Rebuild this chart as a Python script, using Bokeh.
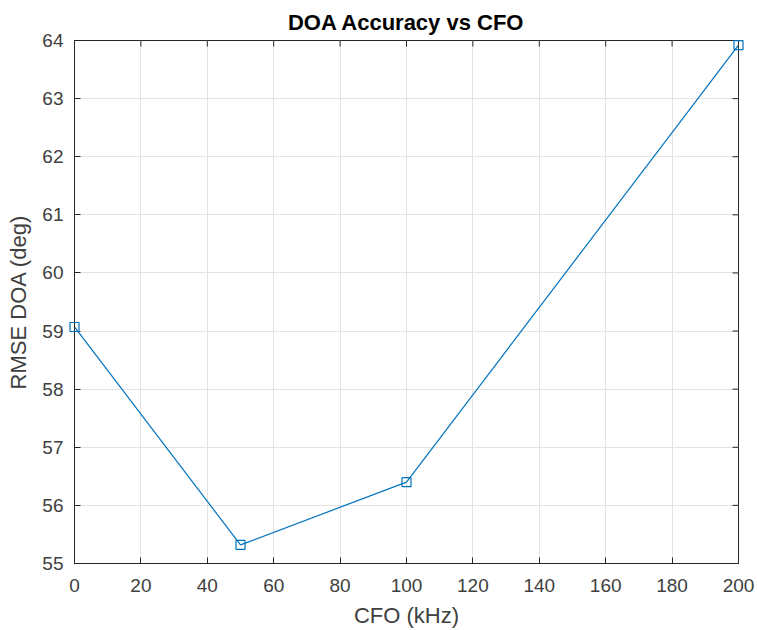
from bokeh.plotting import figure
from bokeh.models import ColumnDataSource, FixedTicker, Range1d, Title
from bokeh.embed import file_html
from bokeh.resources import INLINE

# Data
cfo_khz = [0, 50, 100, 200]
rmse_doa = [59.07, 55.32, 56.40, 63.92]
x_ticks = [0, 20, 40, 60, 80, 100, 120, 140, 160, 180, 200]
y_ticks = [55, 56, 57, 58, 59, 60, 61, 62, 63, 64]
title_text = "DOA Accuracy vs CFO"
x_label = "CFO (kHz)"
y_label = "RMSE DOA (deg)"

FONT = "Liberation Sans"
AX = "#262626"
TXT = "#404040"
BLUE = "#0072BD"

X_MIN, X_MAX = x_ticks[0], x_ticks[-1]
Y_MIN, Y_MAX = y_ticks[0], y_ticks[-1]

p = figure(width=757, height=630, output_backend="svg", toolbar_location=None,
           x_range=Range1d(X_MIN, X_MAX), y_range=Range1d(Y_MIN, Y_MAX),
           min_border_left=74, min_border_right=19, min_border_top=40,
           min_border_bottom=66)
p.title = Title(text=title_text, align="center", text_font=FONT,
                text_font_size="22px", text_font_style="bold",
                text_color="#000000", standoff=11)
p.outline_line_color = AX
p.outline_line_width = 1
p.background_fill_color = "white"
p.border_fill_color = "white"

p.xgrid.ticker = FixedTicker(ticks=x_ticks)
p.ygrid.ticker = FixedTicker(ticks=y_ticks)
p.xgrid.grid_line_color = "#e3e3e3"
p.ygrid.grid_line_color = "#e3e3e3"

# inward tick marks on the top and right edges (clipped to the frame)
p.scatter(x=x_ticks, y=[Y_MAX] * len(x_ticks), marker="dash", angle=1.5708,
          size=12, line_color=AX, line_width=1)
p.scatter(x=[X_MAX] * len(y_ticks), y=y_ticks, marker="dash",
          size=12, line_color=AX, line_width=1)

src = ColumnDataSource(dict(x=cfo_khz, y=rmse_doa))
p.line("x", "y", source=src, line_color=BLUE, line_width=1.2)
p.scatter("x", "y", source=src, marker="square", size=9, line_color=BLUE,
          line_width=1.2, fill_color=None, level="overlay")

xa = p.xaxis[0]
ya = p.yaxis[0]
for ax, ticks in ((xa, x_ticks), (ya, y_ticks)):
    ax.ticker = FixedTicker(ticks=ticks)
    ax.axis_line_color = AX
    ax.major_tick_line_color = AX
    ax.major_tick_in = 6
    ax.major_tick_out = 0
    ax.minor_tick_line_color = None
    ax.major_label_text_font = FONT
    ax.major_label_text_color = TXT
    ax.major_label_text_font_size = "19px"
    ax.axis_label_text_font = FONT
    ax.axis_label_text_font_size = "22px"
    ax.axis_label_text_font_style = "normal"
    ax.axis_label_text_color = TXT
xa.major_label_standoff = 15
ya.major_label_standoff = 11
xa.axis_label = x_label
ya.axis_label = y_label
xa.axis_label_standoff = 8
ya.axis_label_standoff = 8

open("out.html", "w").write(file_html(p, INLINE))
